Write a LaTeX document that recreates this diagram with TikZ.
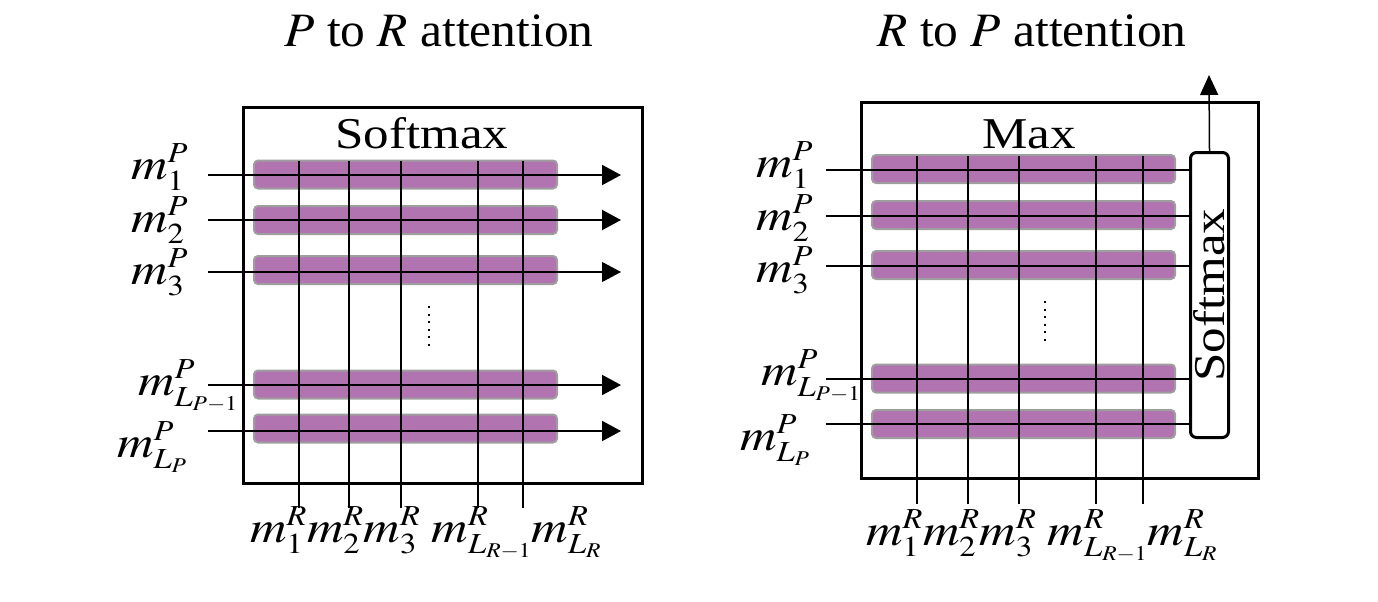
\documentclass[tikz,border=0pt]{standalone}
\usepackage{mathptmx}
\usepackage[no-math]{fontspec}
\setmainfont{Liberation Serif}
\usepackage{graphicx}
\usepackage{tikz}
\usetikzlibrary{positioning, arrows.meta}
\DeclareMathSizes{45}{45}{29}{21}
\definecolor{bar-purple}{RGB}{177,116,177}
\definecolor{bar-grey}{RGB}{158,158,158}
\tikzset{
	frame/.style={draw, line width=3pt, inner sep=0pt},
	bar/.style={draw=bar-grey, fill=bar-purple, line width=2pt, rounded corners=4pt, minimum width=303pt, minimum height=28pt, inner sep=0pt},
	lbl/.style={anchor=base west, inner sep=0pt, xscale=1.12, font=\fontsize{45}{54}\selectfont},
	big/.style={anchor=base, inner sep=0pt, xscale=1.16, font=\fontsize{44}{52}\selectfont},
	head/.style={anchor=base, inner sep=0pt, xscale=1.03, font=\fontsize{48}{56}\selectfont},
	tip/.style={-{Triangle[length=19pt,width=20pt]}},
	fat/.style={line width=2pt},
	mid/.style={line width=1.5pt},
	slim/.style={line width=1.1pt},
	dots/.style={line width=2.5pt, dash pattern=on 2pt off 5.5pt}
}
\begin{document}
\begin{tikzpicture}[x=1pt, y=-1pt]
	\useasboundingbox (0,0) rectangle (1378,602);
	% P to R attention
	\node[head] (titleA) at (439,47) {$P$ to $R$ attention};
	\node[frame, minimum width=399pt, minimum height=376pt] (frameA) at (442.5,295) {};
	\node[big] (smA) at (422,148) {Softmax};
	\node[bar] (barA1) at (405.5,174.5) {};
	\node[bar] (barA2) at (405.5,220) {};
	\node[bar] (barA3) at (405.5,270) {};
	\node[bar] (barA4) at (405.5,384.5) {};
	\node[bar] (barA5) at (405.5,428.5) {};
	\coordinate (botA) at (0,508);
	\coordinate (outA) at (621,0);
	\coordinate (vA1) at (299,161);
	\coordinate (vA2) at (349,161);
	\coordinate (vA3) at (401,161);
	\coordinate (vA4) at (478,161);
	\coordinate (vA5) at (523,161);
	\draw[fat] (vA1) -- (vA1 |- botA);
	\draw[slim] (vA2) -- (vA2 |- botA);
	\draw[fat] (vA3) -- (vA3 |- botA);
	\draw[slim] (vA4) -- (vA4 |- botA);
	\draw[mid] (vA5) -- (vA5 |- botA);
	\coordinate (hA1) at (208,175);
	\coordinate (hA2) at (208,220);
	\coordinate (hA3) at (208,272);
	\coordinate (hA4) at (208,385);
	\coordinate (hA5) at (208,431);
	\draw[tip, fat] (hA1) -- (hA1 -| outA);
	\draw[tip, fat] (hA2) -- (hA2 -| outA);
	\draw[tip, slim] (hA3) -- (hA3 -| outA);
	\draw[tip, fat] (hA4) -- (hA4 -| outA);
	\draw[tip, fat] (hA5) -- (hA5 -| outA);
	\draw[dots] (429,306) -- (429,350);
	\node[lbl] (mA1) at (131,179) {$m^P_1$};
	\node[lbl] (mA2) at (131,232) {$m^P_2$};
	\node[lbl] (mA3) at (131,284) {$m^P_3$};
	\node[lbl] (mA4) at (138,395) {$m^P_{L_{P-1}}$};
	\node[lbl] (mA5) at (117,457) {$m^P_{L_P}$};
	\node[lbl] (mRA) at (250,542) {$m^R_1m^R_2m^R_3\;m^R_{L_{R-1}}m^R_{L_R}$};
	% R to P attention
	\node[head] (titleB) at (1032,47) {$R$ to $P$ attention};
	\node[frame, minimum width=397pt, minimum height=376pt] (frameB) at (1059.5,290) {};
	\node[big] (maxB) at (1029,148) {Max};
	\node[bar] (barB1) at (1023.5,169) {};
	\node[bar] (barB2) at (1023.5,215) {};
	\node[bar] (barB3) at (1023.5,265) {};
	\node[bar] (barB4) at (1023.5,378.5) {};
	\node[bar] (barB5) at (1023.5,424) {};
	\node[frame, rounded corners=6pt, rotate=90, minimum width=285pt, minimum height=38pt, font=\fontsize{44}{52}\selectfont] (smB) at (1209.5,295) {\scalebox{1.16}[1]{Softmax}};
	\coordinate (botB) at (0,504);
	\coordinate (vB1) at (917,156);
	\coordinate (vB2) at (968,156);
	\coordinate (vB3) at (1019,156);
	\coordinate (vB4) at (1096,156);
	\coordinate (vB5) at (1143,156);
	\draw[fat] (vB1) -- (vB1 |- botB);
	\draw[mid] (vB2) -- (vB2 |- botB);
	\draw[fat] (vB3) -- (vB3 |- botB);
	\draw[slim] (vB4) -- (vB4 |- botB);
	\draw[fat] (vB5) -- (vB5 |- botB);
	\coordinate (hB1) at (826,170);
	\coordinate (hB2) at (826,216);
	\coordinate (hB3) at (826,266);
	\coordinate (hB4) at (826,379);
	\coordinate (hB5) at (826,424);
	\draw[mid] (hB1) -- (hB1 -| smB.north);
	\draw[slim] (hB2) -- (hB2 -| smB.north);
	\draw[slim] (hB3) -- (hB3 -| smB.north);
	\draw[slim] (hB4) -- (hB4 -| smB.north);
	\draw[slim] (hB5) -- (hB5 -| smB.north);
	\coordinate (upB) at (1209,75);
	\draw[mid, -{Triangle[length=20pt,width=18pt]}] (smB.east) -- (upB);
	\draw[dots] (1045,301) -- (1045,345);
	\node[lbl] (mB1) at (756,177) {$m^P_1$};
	\node[lbl] (mB2) at (756,230) {$m^P_2$};
	\node[lbl] (mB3) at (756,282) {$m^P_3$};
	\node[lbl] (mB4) at (761,385) {$m^P_{L_{P-1}}$};
	\node[lbl] (mB5) at (740,450) {$m^P_{L_P}$};
	\node[lbl] (mRB) at (866,545) {$m^R_1m^R_2m^R_3\;m^R_{L_{R-1}}m^R_{L_R}$};
\end{tikzpicture}
\end{document}
